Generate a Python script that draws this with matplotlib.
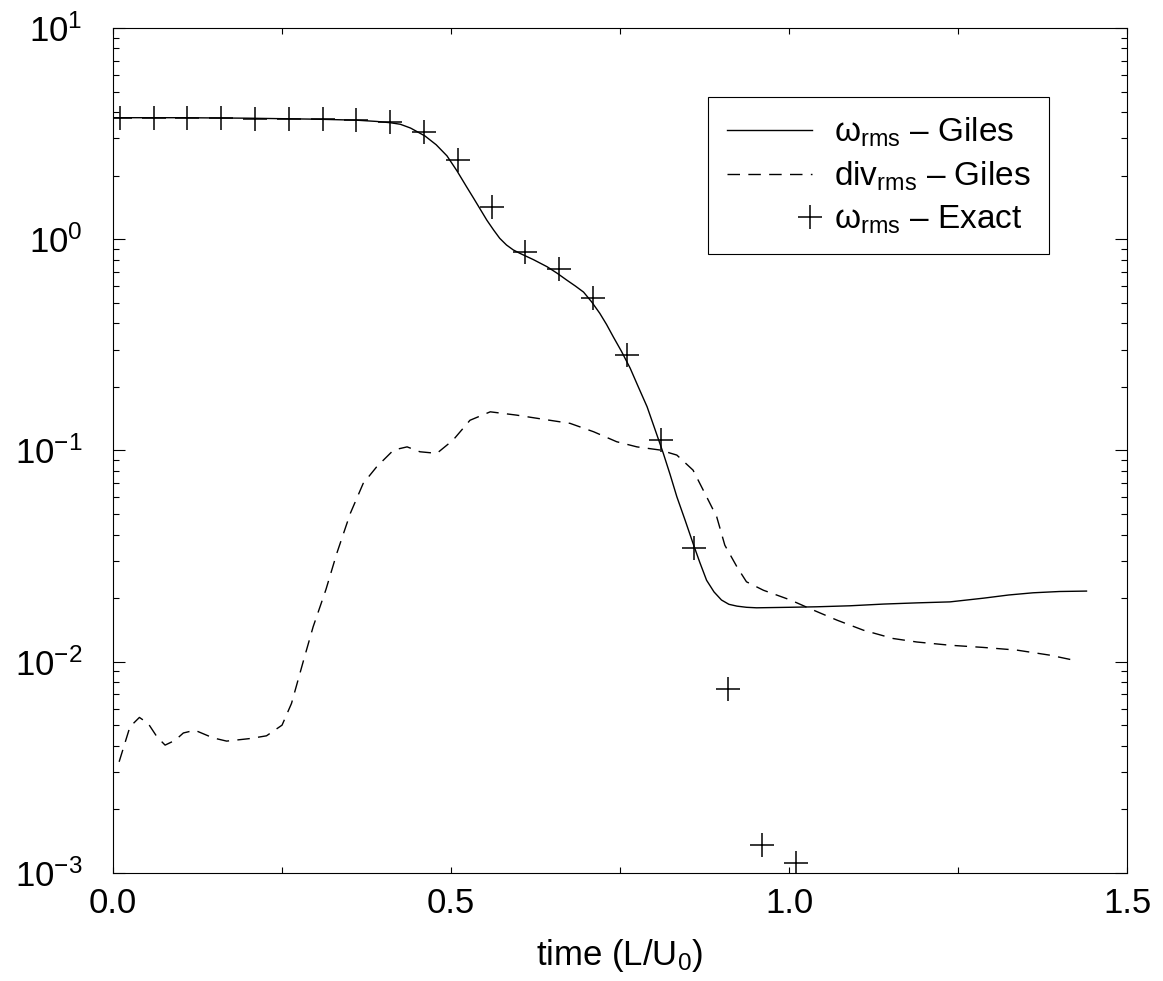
import numpy as np
import matplotlib
matplotlib.use("Agg")
import matplotlib.pyplot as plt
from matplotlib.legend_handler import HandlerLine2D
from matplotlib.ticker import MultipleLocator, LogLocator, NullFormatter, FixedLocator

# datos
t_exact = [0.01, 0.06, 0.11, 0.16, 0.21, 0.26, 0.31, 0.36, 0.41, 0.46, 0.51,
           0.56, 0.61, 0.66, 0.71, 0.76, 0.81, 0.86, 0.91, 0.96, 1.01]
w_exact = [3.76, 3.76, 3.76, 3.76, 3.72, 3.72, 3.70, 3.67, 3.57, 3.21, 2.38,
           1.42, 0.87, 0.72, 0.525, 0.283, 0.112, 0.0344, 0.0074, 0.00136, 0.00111]

t_giles = [0.0, 0.10, 0.20, 0.30, 0.36, 0.39, 0.41, 0.425, 0.44, 0.4615, 0.478, 0.494,
           0.509, 0.523, 0.533, 0.543, 0.553, 0.563, 0.572, 0.582, 0.592, 0.602, 0.622,
           0.642, 0.657, 0.671, 0.684, 0.696, 0.708, 0.720, 0.730, 0.740, 0.752, 0.765,
           0.777, 0.790, 0.802, 0.814, 0.824, 0.834, 0.846, 0.858, 0.868, 0.878, 0.889,
           0.900, 0.911, 0.923, 0.937, 0.952, 1.000, 1.041, 1.090, 1.140, 1.190, 1.238,
           1.288, 1.325, 1.361, 1.400, 1.440]
w_giles = [3.76, 3.76, 3.74, 3.70, 3.66, 3.61, 3.56, 3.50, 3.36, 3.08, 2.80, 2.48,
           2.10, 1.77, 1.57, 1.39, 1.23, 1.105, 1.01, 0.939, 0.890, 0.857, 0.80,
           0.741, 0.690, 0.641, 0.600, 0.562, 0.505, 0.446, 0.395, 0.345, 0.295, 0.245,
           0.200, 0.161, 0.125, 0.0969, 0.077, 0.0604, 0.047, 0.0363, 0.0295, 0.0243, 0.0214,
           0.0196, 0.0187, 0.01833, 0.0181, 0.0180, 0.0181, 0.0182, 0.0184, 0.01875, 0.0190, 0.0192,
           0.0200, 0.0207, 0.0212, 0.0215, 0.0216]

t_div = [0.009, 0.025, 0.039, 0.052, 0.065, 0.077, 0.092, 0.104, 0.121, 0.148,
         0.168, 0.203, 0.227, 0.250, 0.264, 0.282, 0.296, 0.315, 0.331, 0.351,
         0.370, 0.390, 0.415, 0.435, 0.454, 0.479, 0.503, 0.528, 0.558, 0.597,
         0.646, 0.676, 0.711, 0.745, 0.775, 0.809, 0.834, 0.858, 0.878, 0.893,
         0.905, 0.923, 0.937, 0.962, 1.002, 1.036, 1.071, 1.110, 1.154, 1.189,
         1.238, 1.287, 1.337, 1.386, 1.428]
div_giles = [0.00336, 0.00492, 0.00545, 0.0051, 0.00441, 0.00403, 0.00425, 0.0046, 0.00474, 0.00436,
             0.00421, 0.00433, 0.00446, 0.00501, 0.00635, 0.0102, 0.01464, 0.022, 0.0326, 0.0504,
             0.0698, 0.0837, 0.1005, 0.104, 0.0986, 0.0969, 0.112, 0.139, 0.1524, 0.147,
             0.139, 0.1344, 0.1226, 0.110, 0.104, 0.1005, 0.0951, 0.0807, 0.0604, 0.0485,
             0.0356, 0.0281, 0.0239, 0.0218, 0.0196, 0.01755, 0.01573, 0.0141, 0.01288, 0.0124,
             0.01197, 0.01169, 0.01135, 0.01074, 0.01006]

plt.rcParams["font.family"] = ["Liberation Sans", "DejaVu Sans"]
plt.rcParams["mathtext.fontset"] = "custom"
plt.rcParams["mathtext.rm"] = "Liberation Sans"
plt.rcParams["mathtext.it"] = "Liberation Sans:italic"
plt.rcParams["mathtext.default"] = "regular"


# el marcador "+" de la leyenda va al final del hueco, como en el original
class HandlerRight(HandlerLine2D):
    def create_artists(self, legend, orig_handle, xdescent, ydescent, width, height, fontsize, trans):
        artists = super().create_artists(legend, orig_handle, xdescent, ydescent,
                                         width, height, fontsize, trans)
        x_m = -xdescent + width - 0.05 * fontsize
        for a in artists:
            a.set_xdata([x_m] * len(a.get_xdata()))
        return artists


fig = plt.figure(figsize=(11.63, 9.81), dpi=100)
ax = fig.add_axes([0.0972, 0.1101, 0.8719, 0.8614])

ax.plot(t_giles, w_giles, color="black", lw=1.0, label=r"ω$_{\rm rms}$ – Giles")
ax.plot(t_div, div_giles, color="black", lw=1.0, dashes=(9, 6), label=r"div$_{\rm rms}$ – Giles")
pl, = ax.plot(t_exact, w_exact, ls="none", marker="+", ms=17, mew=1.1, color="black",
              label=r"ω$_{\rm rms}$ – Exact")

ax.set_yscale("log")
ax.set_xlim(0, 1.5)
ax.set_ylim(1e-3, 1e1)

ax.xaxis.set_major_locator(FixedLocator([0.0, 0.5, 1.0, 1.5]))
ax.xaxis.set_minor_locator(MultipleLocator(0.25))
ax.set_xticklabels(["0.0", "0.5", "1.0", "1.5"])
ax.yaxis.set_major_locator(LogLocator(base=10, numticks=10))
ax.yaxis.set_minor_locator(LogLocator(base=10, subs=np.arange(2, 10), numticks=20))
ax.yaxis.set_minor_formatter(NullFormatter())

ax.tick_params(axis="both", which="both", direction="in", top=True, right=True, labelsize=25)
ax.tick_params(axis="x", which="both", length=4.3, width=0.8, pad=10)
ax.tick_params(axis="y", which="major", length=8.6, width=0.8, pad=22)
ax.tick_params(axis="y", which="minor", length=4.3, width=0.8)

for s in ax.spines.values():
    s.set_linewidth(0.8)

ax.set_xlabel(r"time (L/U$_0$)", fontsize=25, labelpad=12)

leg = ax.legend(loc="upper left", bbox_to_anchor=(0.587, 0.918), borderaxespad=0,
                fontsize=24, handlelength=2.55, handletextpad=0.66, labelspacing=0.32,
                borderpad=0.55, fancybox=False, framealpha=1, edgecolor="black",
                handler_map={pl: HandlerRight(numpoints=1)})
leg.get_frame().set_linewidth(0.8)

plt.savefig("out.png", dpi=100)
